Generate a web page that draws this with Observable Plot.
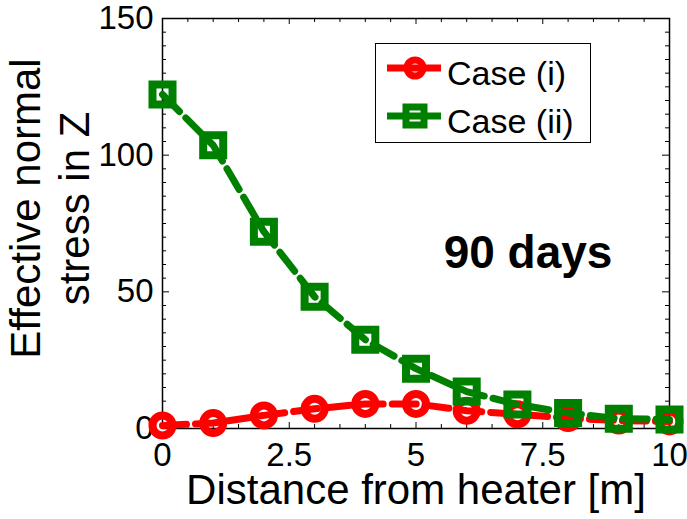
<!DOCTYPE html>
<html>
<head>
<meta charset="utf-8">
<script src="https://cdn.jsdelivr.net/npm/d3@7"></script>
<script src="https://cdn.jsdelivr.net/npm/@observablehq/plot@0.6"></script>
<style>
  html, body { margin: 0; padding: 0; background: #fff; }
  #wrap { position: relative; width: 687px; height: 519px; font-family: "Liberation Sans", Arial, sans-serif; }
  #legend { position: absolute; left: 375px; top: 43px; width: 216px; height: 100px; box-sizing: border-box; border: 1.5px solid #000; background: #fff; }
</style>
</head>
<body>
<div id="wrap"><div id="legend"></div></div>
<script>
// ---- data ----
const distance = [0, 1, 2, 3, 4, 5, 6, 7, 8, 9, 10];
const caseI  = [1.1, 2.0, 4.8, 7.2, 9.0, 9.0, 6.5, 5.2, 3.8, 2.9, 2.6];
const caseII = [122.2, 103.6, 72.0, 48.2, 32.5, 21.9, 13.5, 8.8, 5.7, 3.6, 3.3];
const seriesNames = ["Case (i)", "Case (ii)"];
const xTickLabels = [0, 2.5, 5, 7.5, 10];
const yTickLabels = [0, 50, 100, 150];
const xMinorTicks = d3.range(0, 10.001, 0.5);
const yMinorTicks = d3.range(0, 150.001, 5);
const xLabel = "Distance from heater [m]";
const yLabel = "Effective normal\nstress in Z";
const annotation = "90 days";

const RED = "#ff0000", GREEN = "#008000";
const rowsI = distance.map((d, i) => ({x: d, y: caseI[i]}));
const rowsII = distance.map((d, i) => ({x: d, y: caseII[i]}));

const mT = 18, mB = 91, mL = 162, mR = 18, W = 687, H = 519;
const fH = H - mT - mB, fW = W - mL - mR;
const xMinor = xMinorTicks.filter(v => !xTickLabels.includes(v));
const yMinor = yMinorTicks.filter(v => !yTickLabels.includes(v));

const chart = Plot.plot({
  width: W, height: H,
  marginTop: mT, marginBottom: mB, marginLeft: mL, marginRight: mR,
  style: {fontFamily: "'Liberation Sans', Arial, sans-serif", background: "#fff", color: "#000", overflow: "visible"},
  x: {domain: [0, 10]},
  y: {domain: [0, 150]},
  marks: [
    // inward ticks on all four sides
    Plot.tickX(xMinor, {x: d => d, insetTop: fH - 4, stroke: "#000", strokeWidth: 1}),
    Plot.tickX(xMinor, {x: d => d, insetBottom: fH - 4, stroke: "#000", strokeWidth: 1}),
    Plot.tickX(xTickLabels, {x: d => d, insetTop: fH - 6, stroke: "#000", strokeWidth: 1}),
    Plot.tickX(xTickLabels, {x: d => d, insetBottom: fH - 6, stroke: "#000", strokeWidth: 1}),
    Plot.tickY(yMinor, {y: d => d, insetRight: fW - 4, stroke: "#000", strokeWidth: 1}),
    Plot.tickY(yMinor, {y: d => d, insetLeft: fW - 4, stroke: "#000", strokeWidth: 1}),
    Plot.tickY(yTickLabels, {y: d => d, insetRight: fW - 7, stroke: "#000", strokeWidth: 1}),
    Plot.tickY(yTickLabels, {y: d => d, insetLeft: fW - 7, stroke: "#000", strokeWidth: 1}),
    Plot.frame({stroke: "#000", strokeWidth: 1.5}),
    Plot.axisX(xTickLabels, {tickSize: 0, tickPadding: 14, fontSize: 33, tickFormat: d => String(d), label: null}),
    Plot.axisY(yTickLabels, {tickSize: 0, tickPadding: 9, fontSize: 33, tickFormat: d => String(d), label: null}),
    Plot.text([xLabel], {frameAnchor: "bottom", dy: 46, lineAnchor: "top", fontSize: 42, fill: "#000"}),
    Plot.text([yLabel], {frameAnchor: "left", rotate: -90, dx: -114, dy: -15, lineAnchor: "middle", textAnchor: "middle", lineHeight: 1.19, fontSize: 42, fill: "#000"}),
    Plot.text([annotation], {x: () => 7.21, y: () => 64, fontSize: 46, fontWeight: "bold", fill: "#000"}),
    // series
    Plot.line(rowsI, {x: "x", y: "y", stroke: RED, strokeWidth: 7, strokeDasharray: "24,9"}),
    Plot.dot(rowsI, {x: "x", y: "y", r: 10, stroke: RED, strokeWidth: 8, fill: "none"}),
    Plot.line(rowsII, {x: "x", y: "y", stroke: GREEN, strokeWidth: 7, strokeDasharray: "24,9"}),
    Plot.dot(rowsII, {x: "x", y: "y", symbol: "square", r: 11.3, stroke: GREEN, strokeWidth: 8, fill: "none"})
  ]
});
document.getElementById("wrap").prepend(chart);

// legend
const lg = d3.select("#legend").append("svg").attr("width", 213).attr("height", 97).style("position", "absolute").style("left", "0px").style("top", "0px");
const rowY = [24, 72];
const colors = [RED, GREEN];
seriesNames.forEach((name, i) => {
  const y = rowY[i];
  lg.append("line").attr("x1", 11).attr("x2", 65).attr("y1", y).attr("y2", y).attr("stroke", colors[i]).attr("stroke-width", 7);
  if (i === 0) {
    lg.append("circle").attr("cx", 39).attr("cy", y).attr("r", 8).attr("fill", "none").attr("stroke", colors[i]).attr("stroke-width", 7);
  } else {
    lg.append("rect").attr("x", 39 - 9).attr("y", y - 9).attr("width", 18).attr("height", 18).attr("fill", "none").attr("stroke", colors[i]).attr("stroke-width", 7);
  }
  lg.append("text").attr("x", 71).attr("y", y + 17).attr("font-size", 34).attr("font-family", "'Liberation Sans', Arial, sans-serif").attr("fill", "#000").text(name);
});
</script>
</body>
</html>
